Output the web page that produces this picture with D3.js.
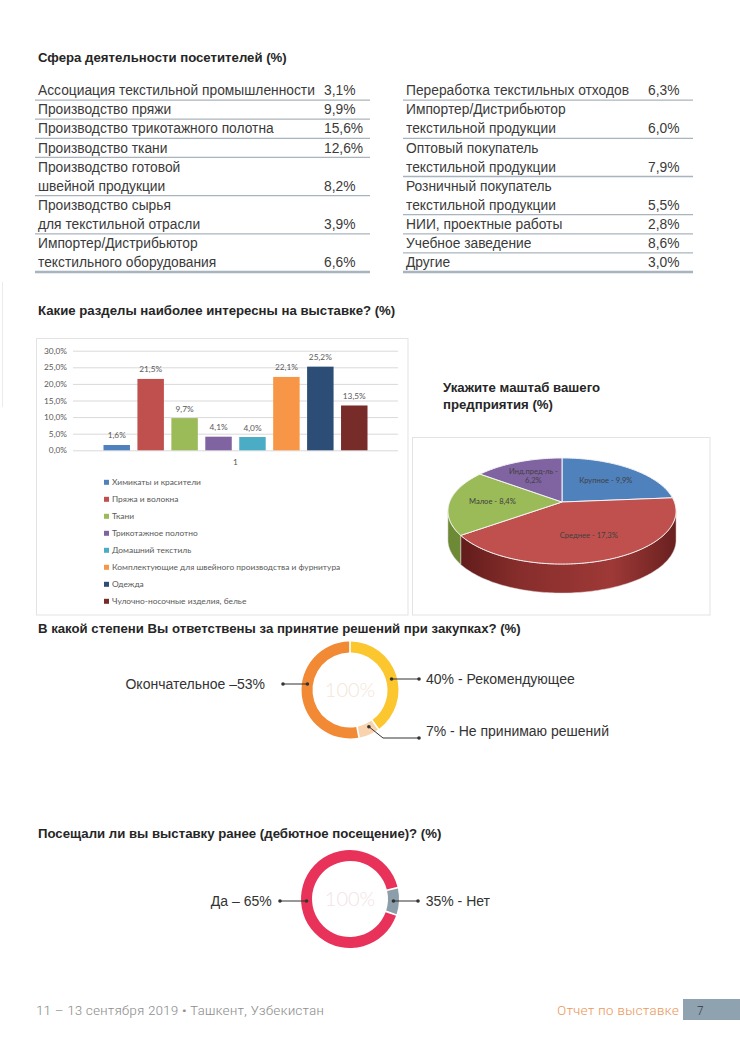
<!DOCTYPE html>
<html><head><meta charset="utf-8">
<script src="https://cdn.jsdelivr.net/npm/d3@7"></script>
<style>body{margin:0;background:#fff}svg{display:block}</style>
</head><body>
<script>
// ---------- DATA ----------
const titleActivity = "Сфера деятельности посетителей (%)";
const activityLeftLabels = [
  ["Ассоциация текстильной промышленности"],
  ["Производство пряжи"],
  ["Производство трикотажного полотна"],
  ["Производство ткани"],
  ["Производство готовой", "швейной продукции"],
  ["Производство сырья", "для текстильной отрасли"],
  ["Импортер/Дистрибьютор", "текстильного оборудования"]
];
const activityLeftValues = [3.1, 9.9, 15.6, 12.6, 8.2, 3.9, 6.6];
const activityRightLabels = [
  ["Переработка текстильных отходов"],
  ["Импортер/Дистрибьютор", "текстильной продукции"],
  ["Оптовый покупатель", "текстильной продукции"],
  ["Розничный покупатель", "текстильной продукции"],
  ["НИИ, проектные работы"],
  ["Учебное заведение"],
  ["Другие"]
];
const activityRightValues = [6.3, 6.0, 7.9, 5.5, 2.8, 8.6, 3.0];

const titleSections = "Какие разделы наиболее интересны на выставке? (%)";
const sectionCategories = [
  "Химикаты и красители", "Пряжа и волокна", "Ткани", "Трикотажное полотно",
  "Домашний текстиль", "Комплектующие для швейного производства и фурнитура",
  "Одежда", "Чулочно-носочные изделия, белье"
];
const sectionValues = [1.6, 21.5, 9.7, 4.1, 4.0, 22.1, 25.2, 13.5];
const sectionColors = ["#4f81bd", "#c0504d", "#9bbb59", "#8064a2", "#4bacc6", "#f79646", "#2c4d75", "#772c2a"];
const sectionGroup = ["1"];
const sectionTicks = [0, 5, 10, 15, 20, 25, 30];

const titleSize = ["Укажите маштаб вашего", "предприятия (%)"];
const sizeLabels = ["Крупное", "Среднее", "Малое", "Инд.пред-ль"];
const sizeValues = [9.9, 17.3, 8.4, 6.2];
const sizeColors = ["#4f81bd", "#c0504d", "#9bbb59", "#8064a2"];

const titleDecision = "В какой степени Вы ответствены за принятие решений при закупках? (%)";
const decisionLabels = ["40% - Рекомендующее", "7% - Не принимаю решений", "Окончательное –53%"];
const decisionValues = [40, 7, 53];
const decisionColors = ["#fcc62e", "#f8d3ae", "#f28a35"];

const titleVisit = "Посещали ли вы выставку ранее (дебютное посещение)? (%)";
const visitLabels = ["35% - Нет", "Да – 65%"];
const visitValues = [35, 65];          // values printed in the labels
const visitArcShares = [9, 91];        // ring shares as drawn in the picture
const visitColors = ["#8b9ea9", "#e8325a"];

const footerLeft = "11 – 13 сентября 2019 • Ташкент, Узбекистан";
const footerRight = "Отчет по выставке";
const pageNumber = "7";

// ---------- SETUP ----------
const W = 740, H = 1047;
const svg = d3.select("body").append("svg").attr("width", W).attr("height", H);
svg.append("rect").attr("width", W).attr("height", H).attr("fill", "#fff");
const FONT = "'Liberation Sans', Arial, Helvetica, sans-serif";
const CHARTFONT = "Lato, 'Open Sans', sans-serif";
const pct = v => d3.format(".1f")(v).replace(".", ",") + "%";

function heading(x, y, lines) {
  const t = svg.append("text").attr("x", x).attr("y", y)
    .attr("font-family", FONT).attr("font-weight", "bold").attr("font-size", 13.2)
    .attr("fill", "#262626");
  [].concat(lines).forEach((l, i) => t.append("tspan").attr("x", x).attr("dy", i ? 17 : 0).text(l));
}

// faint scan edge
svg.append("line").attr("x1", 2.5).attr("x2", 2.5).attr("y1", 282).attr("y2", 407)
  .attr("stroke", "#ececec").attr("stroke-width", 1);

// ---------- TABLES ----------
heading(38, 62, titleActivity);
const lineH = 19.1, tableTop = 81;
function table(labels, values, x0, x1, valX) {
  const g = svg.append("g");
  let line = 0;
  labels.forEach((lab, i) => {
    lab.forEach((t, j) => {
      g.append("text").attr("x", x0).attr("y", tableTop + lineH * (line + j) + 14.2)
        .attr("font-family", FONT).attr("font-size", 13.8).attr("fill", "#3a3a3a").text(t);
    });
    g.append("text").attr("x", valX).attr("y", tableTop + lineH * (line + lab.length - 1) + 14.2)
      .attr("font-family", FONT).attr("font-size", 13.8).attr("fill", "#3a3a3a").text(pct(values[i]));
    line += lab.length;
    const last = i === labels.length - 1;
    g.append("line").attr("x1", x0 - 3).attr("x2", x1)
      .attr("y1", tableTop + lineH * line).attr("y2", tableTop + lineH * line)
      .attr("stroke", "#a9b5be").attr("stroke-width", last ? 2.5 : 1.3);
  });
}
table(activityLeftLabels, activityLeftValues, 38, 370, 324);
table(activityRightLabels, activityRightValues, 406, 693, 648);

// ---------- BAR CHART ----------
heading(38, 315, titleSections);
svg.append("rect").attr("x", 36.5).attr("y", 338.5).attr("width", 371.5).attr("height", 276.5)
  .attr("fill", "none").attr("stroke", "#e3e3e3");

const y = d3.scaleLinear().domain([0, 30]).range([450.3, 350.7]);
const xOuter = d3.scaleBand().domain(sectionGroup).range([73, 398]).paddingOuter(0.1155);
const xInner = d3.scaleBand().domain(sectionCategories)
  .range([xOuter("1"), xOuter("1") + xOuter.bandwidth()]).paddingInner(0.22);

const yAxis = svg.append("g").attr("transform", "translate(73,0)")
  .call(d3.axisLeft(y).tickValues(sectionTicks).tickSize(-(398 - 73)).tickPadding(6)
    .tickFormat(d => pct(d)));
yAxis.select(".domain").remove();
yAxis.selectAll("line").attr("stroke", "#d9d9d9");
yAxis.selectAll("text").attr("font-family", CHARTFONT).attr("font-size", 8.3).attr("fill", "#595959");

const xAxis = svg.append("g").attr("transform", "translate(0,450.3)")
  .call(d3.axisBottom(xOuter).tickSize(0).tickPadding(9));
xAxis.select(".domain").remove();
xAxis.selectAll("text").attr("font-family", CHARTFONT).attr("font-size", 8.3).attr("fill", "#595959");

svg.append("g").selectAll("rect").data(sectionValues).join("rect")
  .attr("x", (d, i) => xInner(sectionCategories[i]))
  .attr("width", xInner.bandwidth())
  .attr("y", d => y(d)).attr("height", d => y(0) - y(d))
  .attr("fill", (d, i) => sectionColors[i]);
svg.append("g").selectAll("text").data(sectionValues).join("text")
  .attr("x", (d, i) => xInner(sectionCategories[i]) + xInner.bandwidth() / 2)
  .attr("y", d => y(d) - 6.5).attr("text-anchor", "middle")
  .attr("font-family", CHARTFONT).attr("font-size", 8.3).attr("fill", "#595959")
  .text(d => pct(d));

const legend = svg.append("g").selectAll("g").data(sectionCategories).join("g")
  .attr("transform", (d, i) => `translate(104,${482.3 + i * 17})`);
legend.append("rect").attr("x", 0).attr("y", -2.5).attr("width", 5).attr("height", 5)
  .attr("fill", (d, i) => sectionColors[i]);
legend.append("text").attr("x", 8).attr("y", 3).attr("font-family", CHARTFONT)
  .attr("font-size", 8.4).attr("fill", "#595959").text(d => d);

// ---------- 3D PIE (perspective) ----------
heading(443, 392, titleSize);
svg.append("rect").attr("x", 412.5).attr("y", 437.5).attr("width", 297.5).attr("height", 177.5)
  .attr("fill", "none").attr("stroke", "#e3e3e3");

const pcx = 562, pcy = 502, pR = 112.4, pK = 51.5 / 112.4, persp = 0.17, depth = 29;
// project an angle (clockwise from the far point) on the tilted disc
const proj = (a, r = 1, dy = 0) => {
  const X = Math.sin(a) * r, Z = Math.cos(a) * r, f = 1 / (1 + persp * Z);
  return [pcx + pR * X * f, pcy - pR * pK * Z * f + dy];
};
const pieArcs = d3.pie().sort(null).value(d => d)(sizeValues);
const sample = (a0, a1, dy = 0) => {
  const n = Math.max(2, Math.ceil((a1 - a0) / 0.02));
  return d3.range(n + 1).map(k => proj(a0 + (a1 - a0) * k / n, 1, dy));
};
const lineGen = d3.line();

const defs = svg.append("defs");
function sideGrad(id, stops) {
  const g = defs.append("linearGradient").attr("id", id).attr("gradientUnits", "userSpaceOnUse")
    .attr("x1", pcx - pR).attr("x2", pcx + pR).attr("y1", 0).attr("y2", 0);
  stops.forEach(s => g.append("stop").attr("offset", s[0]).attr("stop-color", s[1]));
}
sideGrad("side0", [[0, "#2d4a70"], [1, "#3c6290"]]);
sideGrad("side1", [[0, "#5a1918"], [0.3, "#862d2b"], [0.72, "#9e3937"], [1, "#6a2120"]]);
sideGrad("side2", [[0, "#6c8a35"], [1, "#7d9c40"]]);
sideGrad("side3", [[0, "#553f73"], [1, "#644c85"]]);

const silA = Math.acos(-persp), silB = 2 * Math.PI - Math.acos(-persp);
const sides = svg.append("g");
pieArcs.forEach((a, i) => {
  const s = Math.max(a.startAngle, silA), e = Math.min(a.endAngle, silB);
  if (s >= e) return;
  const pts = sample(s, e).concat(sample(s, e, depth).reverse());
  sides.append("path").attr("d", lineGen(pts) + "Z")
    .attr("fill", `url(#side${i})`).attr("stroke", "#e6d6d6").attr("stroke-width", 0.5);
});
const tops = svg.append("g");
pieArcs.forEach((a, i) => {
  const pts = [[pcx, pcy]].concat(sample(a.startAngle, a.endAngle));
  tops.append("path").attr("d", lineGen(pts) + "Z")
    .attr("fill", sizeColors[i]).attr("stroke", "#f4f4f4").attr("stroke-width", 1)
    .attr("stroke-linejoin", "round");
});
pieArcs.forEach((a, i) => {
  const m = (a.startAngle + a.endAngle) / 2;
  const [lx, ly] = proj(m, 0.62);
  const v = d3.format(".1f")(sizeValues[i]).replace(".", ",") + "%";
  const lines = sizeLabels[i].length > 8 ? [sizeLabels[i] + " -", v] : [sizeLabels[i] + " - " + v];
  lines.forEach((l, j) => svg.append("text").attr("x", lx).attr("y", ly + 2.7 + (j - (lines.length - 1) / 2) * 9.5)
    .attr("text-anchor", "middle").attr("font-family", CHARTFONT).attr("font-size", 7.6)
    .attr("fill", "#404040").text(l));
});

// ---------- DONUTS ----------
function donut(cx, cy, rOut, rIn, values, colors, startAngle, centerColor) {
  const arcs = d3.pie().sort(null).value(d => d)
    .startAngle(startAngle).endAngle(startAngle + 2 * Math.PI)(values);
  const arcGen = d3.arc().innerRadius(rIn).outerRadius(rOut).padAngle(0.035).padRadius(rOut);
  svg.append("g").attr("transform", `translate(${cx},${cy})`).selectAll("path").data(arcs).join("path")
    .attr("d", arcGen).attr("fill", (d, i) => colors[i]);
  svg.append("text").attr("x", cx).attr("y", cy + 7).attr("text-anchor", "middle")
    .attr("font-family", "Lato, sans-serif").attr("font-weight", 300).attr("font-size", 20)
    .attr("fill", centerColor).text("100%");
}
function leader(points, dots) {
  svg.append("path").attr("d", d3.line()(points)).attr("fill", "none")
    .attr("stroke", "#333").attr("stroke-width", 1);
  dots.forEach(p => svg.append("circle").attr("cx", p[0]).attr("cy", p[1]).attr("r", 1.8).attr("fill", "#333"));
}
function label(x, y, txt, anchor) {
  svg.append("text").attr("x", x).attr("y", y).attr("text-anchor", anchor)
    .attr("font-family", FONT).attr("font-size", 14).attr("fill", "#333").text(txt);
}

heading(38, 633, titleDecision);
const d1 = {cx: 350, cy: 690, ro: 48.5, ri: 37.5};
donut(d1.cx, d1.cy, d1.ro, d1.ri, decisionValues, decisionColors, 0, "#f3e6da");
const d1m = (d1.ro + d1.ri) / 2;
{
  const ly = 679, x0 = d1.cx + Math.sqrt(d1m * d1m - (ly - d1.cy) ** 2);
  leader([[x0, ly], [419, ly]], [[x0, ly], [419, ly]]);
  label(426, ly + 5, decisionLabels[0], "start");
}
{
  const a = (decisionValues[0] + decisionValues[1] / 2) / 100 * 2 * Math.PI;
  const s = [d1.cx + (d1m - 3) * Math.sin(a) + 3, d1.cy - (d1m - 3) * Math.cos(a)];
  leader([s, [383, 738], [419, 738]], [s, [419, 738]]);
  label(426, 736, decisionLabels[1], "start");
}
{
  const ly = 684, x0 = d1.cx - Math.sqrt(d1m * d1m - (ly - d1.cy) ** 2);
  leader([[283, ly], [x0, ly]], [[283, ly], [x0, ly]]);
  label(265, ly + 5, decisionLabels[2], "end");
}

heading(38, 838, titleVisit);
const d2 = {cx: 350, cy: 899, ro: 49, ri: 38};
const visitStart = Math.PI / 2 - (visitArcShares[0] / 100) * Math.PI + 0.05;
donut(d2.cx, d2.cy, d2.ro, d2.ri, visitArcShares, visitColors, visitStart, "#f2e3e6");
const d2m = (d2.ro + d2.ri) / 2;
{
  const ly = 901, x0 = d2.cx + Math.sqrt(d2m * d2m - (ly - d2.cy) ** 2);
  leader([[x0, ly], [418, ly]], [[x0, ly], [418, ly]]);
  label(425.7, ly + 5, visitLabels[0], "start");
}
{
  const ly = 901, x0 = d2.cx - Math.sqrt(d2m * d2m - (ly - d2.cy) ** 2);
  leader([[280, ly], [x0, ly]], [[280, ly], [x0, ly]]);
  label(271.7, ly + 5, visitLabels[1], "end");
}

// ---------- FOOTER ----------
const NARROW = "'Liberation Sans Narrow', 'Roboto Condensed', Roboto, sans-serif";
svg.append("text").attr("x", 36).attr("y", 1015).attr("font-family", NARROW).attr("font-size", 13.5)
  .attr("font-weight", 300).attr("fill", "#8f8f8f").attr("textLength", 288)
  .attr("lengthAdjust", "spacingAndGlyphs").text(footerLeft);
svg.append("text").attr("x", 557).attr("y", 1015).attr("font-family", NARROW).attr("font-size", 13.5)
  .attr("font-weight", 300).attr("fill", "#eb9a60").attr("textLength", 122)
  .attr("lengthAdjust", "spacingAndGlyphs").text(footerRight);
svg.append("rect").attr("x", 683).attr("y", 999).attr("width", 57).attr("height", 21).attr("fill", "#8ea2b0");
svg.append("text").attr("x", 697).attr("y", 1015).attr("font-family", NARROW).attr("font-size", 13.5)
  .attr("font-weight", 300).attr("fill", "#3a3a3a").text(pageNumber);
</script>
</body></html>
